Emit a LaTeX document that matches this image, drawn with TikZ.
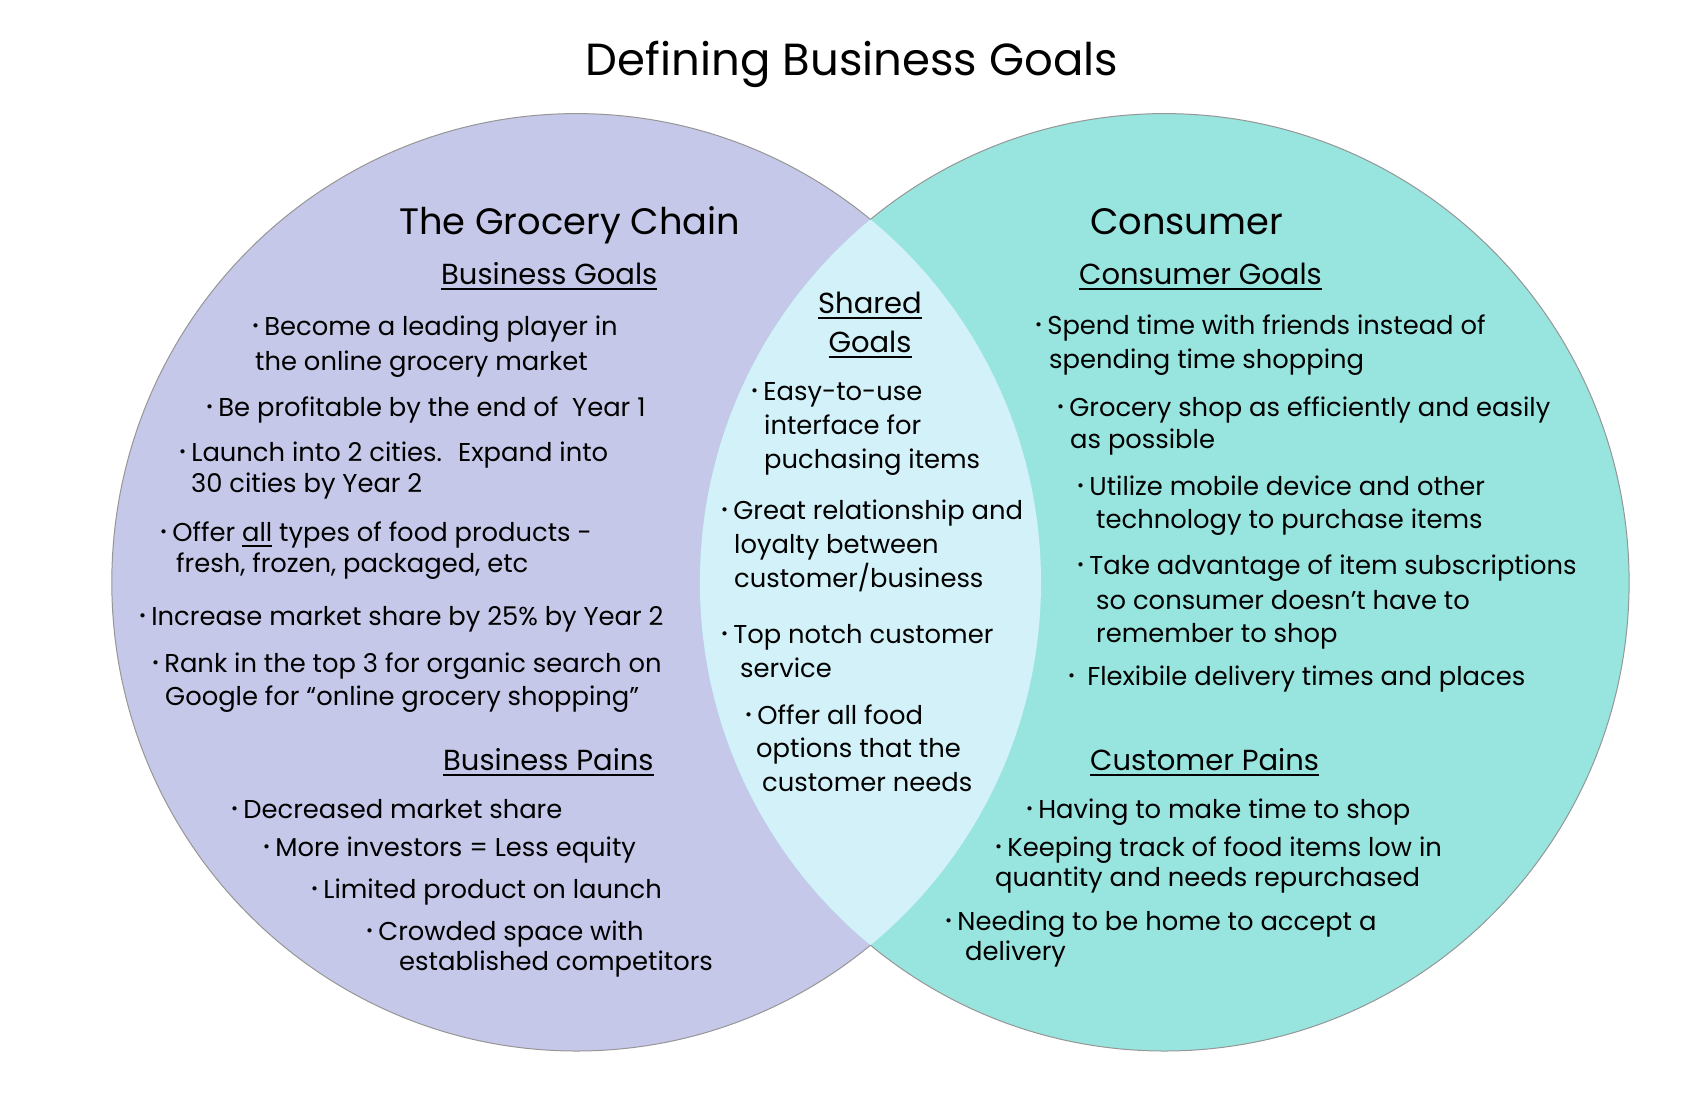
\documentclass[tikz,border=0pt]{standalone}
\usepackage{fontspec}
\setmainfont{Poppins}
\definecolor{lav}{RGB}{197,200,232}
\definecolor{teal}{RGB}{152,228,222}
\definecolor{lens}{RGB}{210,241,248}
\definecolor{rim}{RGB}{150,150,150}
\newcommand{\bul}{\raisebox{0.15em}{\fontsize{17pt}{17pt}\selectfont •}\hspace{0.2em}}
\newcommand{\myul}[1]{\setbox0\hbox{#1}\rlap{\rule[-5.5pt]{\wd0}{1.6pt}}\box0\relax}
\tikzset{
  body/.style={anchor=base west, inner sep=0pt, font=\fontsize{25.8pt}{30pt}\selectfont},
  headtxt/.style={anchor=base west, inner sep=0pt, font=\fontsize{36.8pt}{40pt}\selectfont},
  subtxt/.style={anchor=base west, inner sep=0pt, font=\fontsize{29pt}{34pt}\selectfont},
  titletxt/.style={anchor=base, inner sep=0pt, font=\fontsize{45pt}{50pt}\selectfont},
}
\begin{document}
\begin{tikzpicture}[x=1pt,y=-1pt]
\useasboundingbox (0,0) rectangle (1700,1100);
\coordinate (LC) at (576.4,582.3);
\coordinate (RC) at (1164.5,582.3);
\def\ov{ellipse [x radius=464.6pt, y radius=468.7pt]}
% fills
\fill[lav] (LC) \ov;
\fill[teal] (RC) \ov;
\begin{scope}
  \clip (LC) \ov;
  \fill[lens] (RC) \ov;
\end{scope}
% outer rims
\begin{scope}[even odd rule]
  \clip (-10,-10) rectangle (1710,1110) (RC) \ov;
  \draw[rim, line width=1pt] (LC) \ov;
\end{scope}
\begin{scope}[even odd rule]
  \clip (-10,-10) rectangle (1710,1110) (LC) \ov;
  \draw[rim, line width=1pt] (RC) \ov;
\end{scope}

% title
\node[titletxt] (title) at (852,75) {Defining Business Goals};

% left circle
\node[headtxt] (gc) at (399,234) {The Grocery Chain};
\node[subtxt] (bg) at (441,284) {\myul{Business Goals}};
\node[body] (b1a) at (252,335) {\bul Become a leading player in};
\node[body] (b1b) at (255,370) {the online grocery market};
\node[body] (b2a) at (206,416) {\bul Be profitable by the end of \ Year 1};
\node[body] (b3a) at (179,461) {\bul Launch into 2 cities. \ Expand into};
\node[body] (b3b) at (191,492) {30 cities by Year 2};
\node[body] (b4a) at (160,541) {\bul Offer \myul{all} types of food products -};
\node[body] (b4b) at (176,572) {fresh, frozen, packaged, etc};
\node[body] (b5a) at (139,625) {\bul Increase market share by 25\% by Year 2};
\node[body] (b6a) at (152,672) {\bul Rank in the top 3 for organic search on};
\node[body] (b6b) at (165,705) {Google for “online grocery shopping”};
\node[subtxt] (bp) at (443,770) {\myul{Business Pains}};
\node[body] (p1a) at (231,818) {\bul Decreased market share};
\node[body] (p2a) at (263,856) {\bul More investors = Less equity};
\node[body] (p3a) at (311,898) {\bul Limited product on launch};
\node[body] (p4a) at (366,940) {\bul Crowded space with};
\node[body] (p4b) at (399,970) {established competitors};

% shared
\node[subtxt, anchor=base] (sg1) at (870,313) {\myul{Shared}};
\node[subtxt, anchor=base] (sg2) at (870,352) {\myul{Goals}};
\node[body] (s1a) at (751,400) {\bul Easy-to-use};
\node[body] (s1b) at (764,434) {interface for};
\node[body] (s1c) at (764,468) {puchasing items};
\node[body] (s2a) at (721,519) {\bul Great relationship and};
\node[body] (s2b) at (734,553) {loyalty between};
\node[body] (s2c) at (734,587) {customer/business};
\node[body] (s3a) at (721,643) {\bul Top notch customer};
\node[body] (s3b) at (740,677) {service};
\node[body] (s4a) at (745,724) {\bul Offer all food};
\node[body] (s4b) at (756,757) {options that the};
\node[body] (s4c) at (762,791) {customer needs};

% right circle
\node[headtxt] (cs) at (1090,234) {Consumer};
\node[subtxt] (cg) at (1079,284) {\myul{Consumer Goals}};
\node[body] (c1a) at (1035,334) {\bul Spend time with friends instead of};
\node[body] (c1b) at (1049,368) {spending time shopping};
\node[body] (c2a) at (1057,416) {\bul Grocery shop as efficiently and easily};
\node[body] (c2b) at (1070,448) {as possible};
\node[body] (c3a) at (1077,495) {\bul Utilize mobile device and other};
\node[body] (c3b) at (1096,528) {technology to purchase items};
\node[body] (c4a) at (1077,574) {\bul Take advantage of item subscriptions};
\node[body] (c4b) at (1096,609) {so consumer doesn’t have to};
\node[body] (c4c) at (1096,642) {remember to shop};
\node[body] (c5a) at (1068,685) {\bul\ Flexibile delivery times and places};
\node[subtxt] (cp) at (1090,770) {\myul{Customer Pains}};
\node[body] (q1a) at (1026,818) {\bul Having to make time to shop};
\node[body] (q2a) at (995,856) {\bul Keeping track of food items low in};
\node[body] (q2b) at (995,886) {quantity and needs repurchased};
\node[body] (q3a) at (945,930) {\bul Needing to be home to accept a};
\node[body] (q3b) at (965,960) {delivery};
\end{tikzpicture}
\end{document}
